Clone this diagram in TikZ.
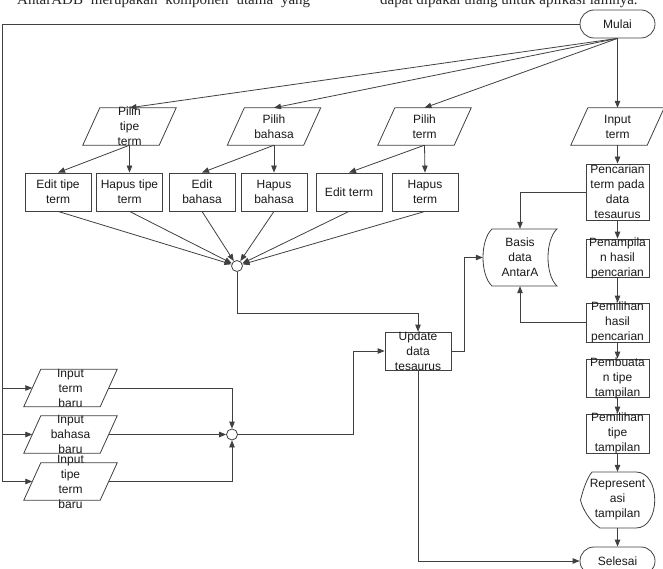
\documentclass[tikz,border=0pt]{standalone}
\usepackage{fontspec}
\setmainfont{Liberation Sans}
\newfontfamily\serifpaper{Liberation Serif}
\usetikzlibrary{arrows.meta,calc}
\tikzset{
  ln/.style={draw=black!75, line width=0.8pt},
  arr/.style={ln, -{Triangle[length=7pt,width=5.5pt]}},
  txt/.style={align=center, font=\fontsize{12}{15}\selectfont, text=black!90, inner sep=0pt},
  proc/.style={rectangle, ln, minimum width=66pt, minimum height=38pt, inner sep=0pt},
  rproc/.style={proc, minimum width=63pt},
  hold/.style={rectangle, draw=none, inner sep=0pt},
  term/.style={rectangle, ln, rounded corners=14pt, minimum width=75pt, minimum height=28pt, inner sep=0pt, font=\fontsize{12}{15}\selectfont, text=black!90},
  junc/.style={circle, ln, fill=white, minimum size=11pt, inner sep=0pt},
  papertext/.style={anchor=base west, inner sep=0pt, font=\serifpaper\fontsize{15}{18}\selectfont, text=black!85}
}
\newcommand\paral[4]{%
  \node[hold, minimum width=93pt, minimum height=37pt, label={[txt]center:{#4}}] (#1) at (#2,#3) {};
  \draw[ln] (#1.south west) -- ([xshift=-17pt]#1.south east) -- (#1.north east) -- ([xshift=17pt]#1.north west) -- cycle;
  \coordinate (#1-l) at ([xshift=8.5pt]#1.west);
  \coordinate (#1-r) at ([xshift=-8.5pt]#1.east);
}
\begin{document}
\begin{tikzpicture}[x=1pt, y=-1pt]
\useasboundingbox (0,0) rectangle (663,569);
\clip (0,0) rectangle (663,569);

% clipped paper text at top
\node[papertext] (para1) at (17,5) {\makebox[293pt][s]{AntarADB merupakan komponen utama yang}};
\node[papertext] (para2) at (380,5) {dapat dipakai ulang untuk aplikasi lainnya.};

% terminals
\node[term] (mulai) at (617.5,24) {Mulai};
\node[term] (sel) at (617.5,561) {Selesai};

% parallelograms
\paral{ptt}{129.5}{126.5}{Pilih\\tipe\\term}
\paral{pb}{274}{126.5}{Pilih\\bahasa}
\paral{pt}{424.5}{126.5}{Pilih\\term}
\paral{it}{617.5}{126.5}{Input\\term}
\paral{itb}{70.5}{388}{Input\\term\\baru}
\paral{ibb}{70.5}{434.5}{Input\\bahasa\\baru}
\paral{itt}{70.5}{481.5}{Input\\tipe\\term\\baru}

% processes
\node[proc, label={[txt]center:{Edit tipe\\term}}] (ett) at (58,192) {};
\node[proc, label={[txt]center:{Hapus tipe\\term}}] (htt) at (129.5,192) {};
\node[proc, label={[txt]center:{Edit\\bahasa}}] (eb) at (202,192) {};
\node[proc, label={[txt]center:{Hapus\\bahasa}}] (hb) at (274,192) {};
\node[proc, label={[txt]center:{Edit term}}] (et) at (349,192) {};
\node[proc, label={[txt]center:{Hapus\\term}}] (ht) at (425,192) {};
\node[proc, label={[txt]center:{Update\\data\\tesaurus}}] (upd) at (418,351) {};

\node[rproc, minimum height=56pt, label={[txt]center:{Pencarian\\term pada\\data\\tesaurus}}] (pc) at (617.5,192) {};
\node[rproc, label={[txt]center:{Penampila\\n hasil\\pencarian}}] (pn) at (617.5,258) {};
\node[rproc, minimum height=39pt, label={[txt]center:{Pemilihan\\hasil\\pencarian}}] (ph) at (617.5,322.5) {};
\node[rproc, label={[txt]center:{Pembuata\\n tipe\\tampilan}}] (pbt) at (617.5,378) {};
\node[rproc, minimum height=39pt, label={[txt]center:{Pemilihan\\tipe\\tampilan}}] (pmt) at (617.5,433.5) {};

% display shape
\node[hold, minimum width=74pt, minimum height=56pt, label={[txt]center:{Represent\\asi\\tampilan}}] (rep) at (617.5,500) {};
\draw[ln] (592,472) -- (636,472) .. controls (661,472) and (661,528) .. (636,528) -- (600,528)
  .. controls (590,522) and (582,508) .. (580.5,500) .. controls (583,490) and (587,478) .. (592,472) -- cycle;

% stored data shape
\node[hold, minimum width=74pt, minimum height=57pt, label={[txt]center:{Basis\\data\\AntarA}}] (bd) at (520,257.5) {};
\draw[ln] (492,229) -- (557,229) .. controls (545,240) and (545,275) .. (557,286) -- (492,286)
  .. controls (480,275) and (480,240) .. (492,229) -- cycle;

% junctions
\node[junc] (c1) at (237,266) {};
\node[junc] (c2) at (232,434.5) {};

% helper coordinates
\coordinate (lx) at (2,0);
\coordinate (j1) at (418,313);
\coordinate (j2x) at (353,0);
\coordinate (j3x) at (464,0);

% connectors
\draw[arr] (mulai.west) -| (lx |- itt-l) -- (itt-l);
\draw[arr] (lx |- itb-l) -- (itb-l);
\draw[arr] (lx |- ibb-l) -- (ibb-l);

\draw[arr] (mulai.south) -- (ptt.north);
\draw[arr] (mulai.south) -- (pb.north);
\draw[arr] (mulai.south) -- (pt.north);
\draw[arr] (mulai.south) -- (it.north);

\draw[arr] (ptt.south) -- (ett.north);
\draw[arr] (ptt.south) -- (htt.north);
\draw[arr] (pb.south) -- (eb.north);
\draw[arr] (pb.south) -- (hb.north);
\draw[arr] (pt.south) -- (et.north);
\draw[arr] (pt.south) -- (ht.north);

\foreach \n in {ett,htt,eb,hb,et,ht}
  \draw[arr] (\n.south) -- (c1);

\draw[arr] (c1.south) |- (j1) -- (upd.north);

\draw[arr] (itb-r) -| (c2.north);
\draw[arr] (ibb-r) -- (c2.west);
\draw[arr] (itt-r) -| (c2.south);
\draw[arr] (c2.east) -- (c2.east -| j2x) |- (upd.west);

\draw[arr] (upd.east) -- (upd.east -| j3x) |- (bd.west);
\draw[arr] (upd.south) |- (sel.west);

\draw[arr] (it.south) -- (pc.north);
\draw[arr] (pc.south) -- (pn.north);
\draw[arr] (pn.south) -- (ph.north);
\draw[arr] (ph.south) -- (pbt.north);
\draw[arr] (pbt.south) -- (pmt.north);
\draw[arr] (pmt.south) -- (rep.north);
\draw[arr] (rep.south) -- (sel.north);

\draw[arr] (pc.west) -| (bd.north);
\draw[arr] (ph.west) -| (bd.south);
\end{tikzpicture}
\end{document}
